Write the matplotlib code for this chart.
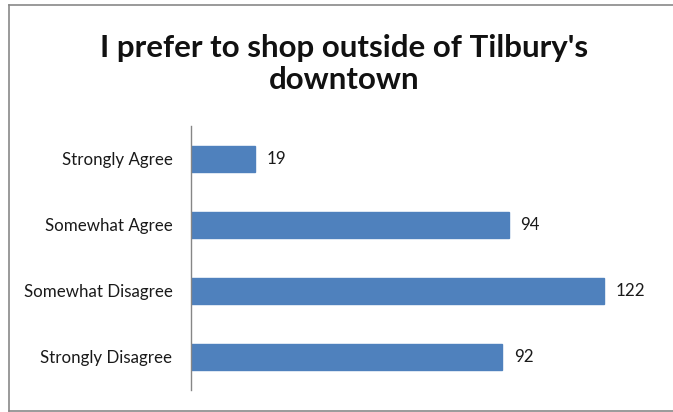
import matplotlib
matplotlib.use("Agg")
import matplotlib.pyplot as plt
from matplotlib.lines import Line2D

categories = ["Strongly Agree", "Somewhat Agree", "Somewhat Disagree", "Strongly Disagree"]
counts = [19, 94, 122, 92]
title = "I prefer to shop outside of Tilbury's\ndowntown"

W, H = 673, 412
plt.rcParams["font.family"] = ["Lato", "DejaVu Sans"]

fig = plt.figure(figsize=(W / 100, H / 100), dpi=100)

# chart frame: top, left and bottom edges only
x0, yt, yb = 8.5 / W, 1 - 4.5 / H, 1 - 410.5 / H
frame = dict(transform=fig.transFigure, color="#898989", linewidth=1.2)
fig.lines.append(Line2D([x0, 1.0], [yt, yt], **frame))
fig.lines.append(Line2D([x0, x0], [yb, yt], **frame))
fig.lines.append(Line2D([x0, 1.0], [yb, yb], **frame))

ax = fig.add_axes([190.5 / W, 1 - 390 / H, (665 - 190.5) / W, (390 - 126) / H])
y = list(range(len(categories)))
ax.barh(y, counts, height=0.4, color="#4F81BD", edgecolor="#4F81BD")
ax.set_ylim(len(categories) - 0.5, -0.5)
ax.set_xlim(0, 140)
ax.set_yticks(y)
ax.set_yticklabels(categories, fontsize=12.2, color="#1a1a1a")
ax.tick_params(axis="y", length=0, pad=13)
ax.set_xticks([])
for s in ["top", "right", "bottom"]:
    ax.spines[s].set_visible(False)
ax.spines["left"].set_color("#868686")
ax.spines["left"].set_linewidth(1.0)

for yi, v in zip(y, counts):
    ax.text(v + 3.4, yi, str(v), va="center", ha="left", fontsize=12.2, color="#1a1a1a")

fig.text(344 / W, 1 - 64 / H, title, ha="center", va="center", fontsize=22.5,
         fontweight="bold", color="#111111", linespacing=1.15)

fig.savefig("out.png", dpi=100)
